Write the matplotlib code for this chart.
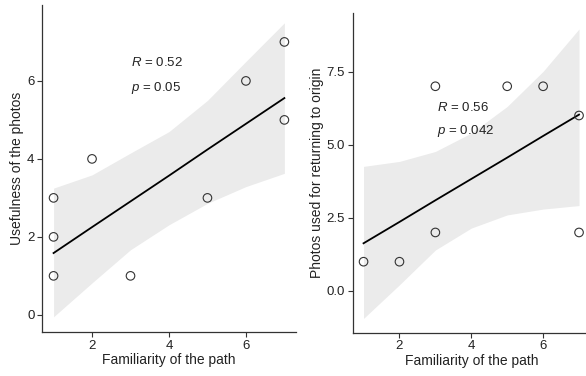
import matplotlib
matplotlib.use("Agg")
import matplotlib.pyplot as plt

plt.rcParams["font.family"] = ["Liberation Sans", "DejaVu Sans"]
plt.rcParams["mathtext.fontset"] = "custom"
plt.rcParams["mathtext.rm"] = "Liberation Sans"
plt.rcParams["mathtext.it"] = "Liberation Sans:italic"

# left panel: usefulness vs familiarity
use_x = [1, 1, 1, 2, 3, 5, 6, 7, 7]
use_y = [1, 2, 3, 4, 1, 3, 6, 7, 5]
# fitted line and 95% band at x = 1..7
fit_x = [1, 2, 3, 4, 5, 6, 7]
use_fit = [1.585, 2.25, 2.91, 3.57, 4.24, 4.90, 5.56]
use_lo = [-0.05, 0.82, 1.67, 2.31, 2.86, 3.29, 3.63]
use_hi = [3.25, 3.59, 4.15, 4.70, 5.50, 6.50, 7.49]

# right panel: photos used for returning vs familiarity
ret_x = [1, 2, 3, 3, 5, 6, 7, 7]
ret_y = [1, 1, 2, 7, 7, 7, 6, 2]
ret_fit = [1.63, 2.36, 3.10, 3.83, 4.56, 5.30, 6.03]
ret_lo = [-0.94, 0.21, 1.40, 2.15, 2.60, 2.80, 2.92]
ret_hi = [4.26, 4.43, 4.77, 5.40, 6.31, 7.51, 8.96]

txt = "#222222"
fig = plt.figure(figsize=(5.86, 3.76), dpi=100)
ax1 = fig.add_axes([0.0717, 0.117, 0.4333, 0.870])
ax2 = fig.add_axes([0.602, 0.115, 0.4045, 0.850])


def panel(ax, px, py, fit, lo, hi, ylabel, ylim, yticks, ylabels, rtxt, ptxt, tx, ty):
    ax.fill_between(fit_x, lo, hi, color="#EBEBEB", lw=0, zorder=1)
    ax.plot(fit_x, fit, color="black", lw=1.3, zorder=2)
    ax.scatter(px, py, s=38, facecolors="none", edgecolors="#333333",
               linewidths=0.8, zorder=3)
    ax.text(tx, ty[0], rtxt, fontsize=9.5, color=txt, va="center", ha="left")
    ax.text(tx, ty[1], ptxt, fontsize=9.5, color=txt, va="center", ha="left")
    ax.set_xlim(0.7, 7.3)
    ax.set_ylim(*ylim)
    ax.set_xticks([2, 4, 6])
    ax.set_yticks(yticks)
    ax.set_yticklabels(ylabels)
    ax.set_xlabel("Familiarity of the path", fontsize=10, color=txt, labelpad=1)
    ax.set_ylabel(ylabel, fontsize=10, color=txt, labelpad=2)
    for s in ["top", "right"]:
        ax.spines[s].set_visible(False)
    for s in ["left", "bottom"]:
        ax.spines[s].set_color("#333333")
        ax.spines[s].set_linewidth(0.9)
    ax.tick_params(length=3.5, width=0.8, color="#333333", labelsize=9.5,
                   labelcolor=txt, pad=2)


panel(ax1, use_x, use_y, use_fit, use_lo, use_hi, "Usefulness of the photos",
      (-0.44, 7.95), [0, 2, 4, 6], ["0", "2", "4", "6"],
      r"$\mathit{R}$ = 0.52", r"$\mathit{p}$ = 0.05", 3.0, (6.46, 5.82))
panel(ax2, ret_x, ret_y, ret_fit, ret_lo, ret_hi, "Photos used for returning to origin",
      (-1.43, 9.5), [0, 2.5, 5, 7.5], ["0.0", "2.5", "5.0", "7.5"],
      r"$\mathit{R}$ = 0.56", r"$\mathit{p}$ = 0.042", 3.04, (6.27, 5.48))

fig.savefig("out.png", dpi=100)
